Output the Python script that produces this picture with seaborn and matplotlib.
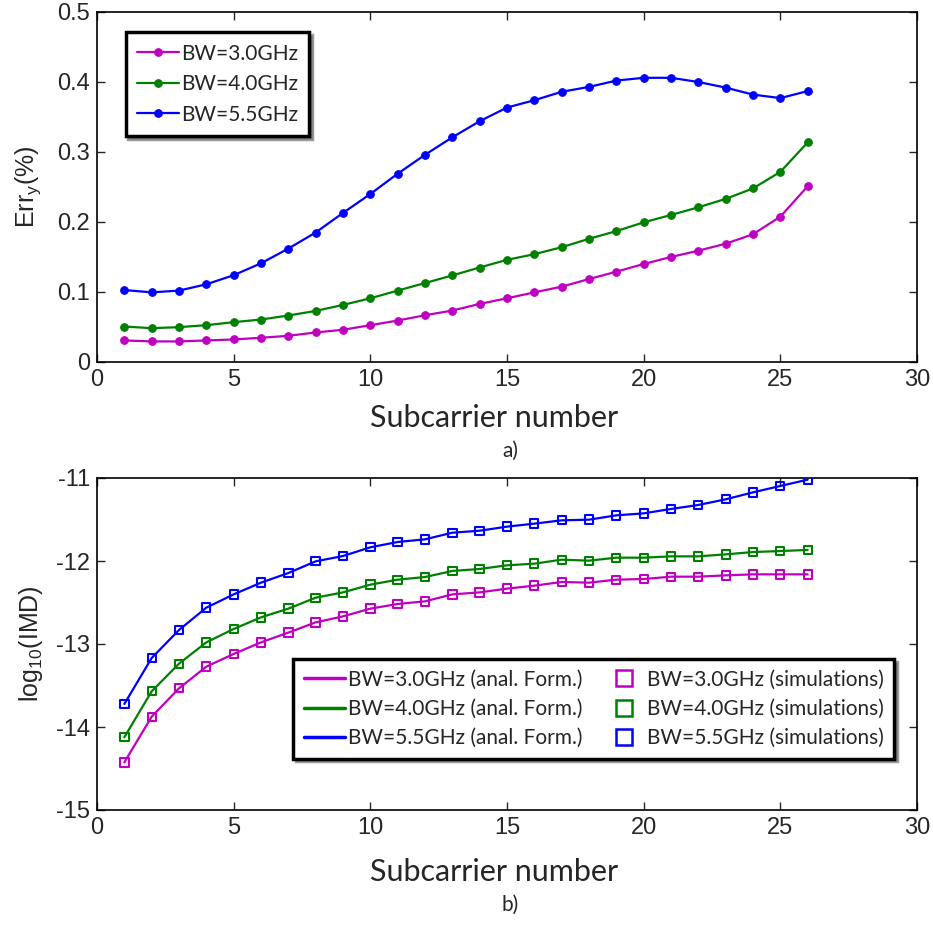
import numpy as np
import pandas as pd
import matplotlib
matplotlib.use("Agg")
import matplotlib.pyplot as plt
from matplotlib.lines import Line2D
import seaborn as sns

# ---------------- data ----------------
subcarrier = list(range(1, 27))

err_bw30 = [0.0308, 0.0294, 0.0294, 0.0308, 0.0322, 0.0346, 0.0374, 0.0422, 0.0460, 0.0526,
            0.0592, 0.0668, 0.0735, 0.0830, 0.0910, 0.0995, 0.1076, 0.1185, 0.1290, 0.1400,
            0.1500, 0.1590, 0.1690, 0.1825, 0.2076, 0.2510]
err_bw40 = [0.0507, 0.0483, 0.0498, 0.0526, 0.0569, 0.0607, 0.0664, 0.0730, 0.0815, 0.0910,
            0.1020, 0.1128, 0.1237, 0.1350, 0.1460, 0.1540, 0.1640, 0.1760, 0.1870, 0.1995,
            0.2100, 0.2210, 0.2330, 0.2480, 0.2716, 0.3137]
err_bw55 = [0.1028, 0.0995, 0.1020, 0.1110, 0.1240, 0.1410, 0.1620, 0.1850, 0.2130, 0.2400,
            0.2690, 0.2960, 0.3210, 0.3440, 0.3635, 0.3740, 0.3860, 0.3930, 0.4020, 0.4060,
            0.4060, 0.4000, 0.3920, 0.3820, 0.3770, 0.3870]

imd_anal_bw30 = [-14.426, -13.876, -13.534, -13.273, -13.120, -12.980, -12.863, -12.739, -12.667, -12.574,
                 -12.518, -12.486, -12.402, -12.378, -12.333, -12.297, -12.253, -12.261, -12.225, -12.217,
                 -12.189, -12.189, -12.173, -12.161, -12.161, -12.161]
imd_anal_bw40 = [-14.124, -13.570, -13.237, -12.980, -12.819, -12.679, -12.574, -12.442, -12.378, -12.285,
                 -12.225, -12.193, -12.120, -12.096, -12.052, -12.032, -11.984, -11.996, -11.960, -11.960,
                 -11.944, -11.944, -11.920, -11.892, -11.880, -11.867]
imd_anal_bw55 = [-13.723, -13.169, -12.831, -12.562, -12.402, -12.261, -12.145, -12.004, -11.940, -11.835,
                 -11.771, -11.739, -11.659, -11.635, -11.586, -11.550, -11.510, -11.502, -11.450, -11.426,
                 -11.373, -11.325, -11.257, -11.173, -11.096, -11.020]

imd_sim_bw30 = [-14.426, -13.876, -13.534, -13.273, -13.120, -12.980, -12.863, -12.739, -12.667, -12.574,
                -12.518, -12.486, -12.402, -12.378, -12.333, -12.297, -12.253, -12.261, -12.225, -12.217,
                -12.189, -12.189, -12.173, -12.161, -12.161, -12.161]
imd_sim_bw40 = [-14.124, -13.570, -13.237, -12.980, -12.819, -12.679, -12.574, -12.442, -12.378, -12.285,
                -12.225, -12.193, -12.120, -12.096, -12.052, -12.032, -11.984, -11.996, -11.960, -11.960,
                -11.944, -11.944, -11.920, -11.892, -11.880, -11.867]
imd_sim_bw55 = [-13.723, -13.169, -12.831, -12.562, -12.402, -12.261, -12.145, -12.004, -11.940, -11.835,
                -11.771, -11.739, -11.659, -11.635, -11.586, -11.550, -11.510, -11.502, -11.450, -11.426,
                -11.373, -11.325, -11.257, -11.173, -11.096, -11.020]

bw_labels = ["BW=3.0GHz", "BW=4.0GHz", "BW=5.5GHz"]
x_ticks = [0, 5, 10, 15, 20, 25, 30]
top_yticks = [0, 0.1, 0.2, 0.3, 0.4, 0.5]
top_yticklabels = ["0", "0.1", "0.2", "0.3", "0.4", "0.5"]
bot_yticks = [-15, -14, -13, -12, -11]
bot_yticklabels = ["-15", "-14", "-13", "-12", "-11"]

colors = ["#c000c0", "#008000", "#0000ff"]

# ---------------- style ----------------
sns.set_theme(style="ticks")
TICK_FONT = ["Liberation Sans", "DejaVu Sans"]
LABEL_FONT = ["Lato", "Open Sans", "DejaVu Sans"]
plt.rcParams["font.family"] = TICK_FONT
plt.rcParams["mathtext.fontset"] = "custom"
plt.rcParams["mathtext.rm"] = "Liberation Sans"
plt.rcParams["xtick.direction"] = "in"
plt.rcParams["ytick.direction"] = "in"
plt.rcParams["axes.linewidth"] = 1.2
plt.rcParams["axes.edgecolor"] = "black"

fig = plt.figure(figsize=(9.33, 9.25), dpi=100)
W, H = 933.0, 925.0
ax1 = fig.add_axes([97 / W, 1 - 362 / H, 820 / W, 350 / H])
ax2 = fig.add_axes([97 / W, 1 - 810 / H, 820 / W, 332 / H])

# ---------------- top panel ----------------
err_series = [err_bw30, err_bw40, err_bw55]
for vals, c, lab in zip(err_series, colors, bw_labels):
    sns.lineplot(x=subcarrier, y=vals, ax=ax1, color=c, marker="o", markersize=5.5,
                 markeredgecolor=c, linewidth=1.6, label=lab)

ax1.set_xlim(0, 30)
ax1.set_ylim(0, 0.5)
ax1.set_xticks(x_ticks)
ax1.set_yticks(top_yticks)
ax1.set_yticklabels(top_yticklabels)
ax1.set_ylabel("Err$_\\mathregular{y}$(%)", fontsize=18, family=TICK_FONT, labelpad=10)
ax1.set_xlabel("Subcarrier number", fontsize=22, family=LABEL_FONT)
leg1 = ax1.legend(loc="upper left", bbox_to_anchor=(0.035, 0.942),
                  prop={"family": LABEL_FONT, "size": 15},
                  frameon=True, fancybox=False, handlelength=2.0, handletextpad=0.1,
                  labelspacing=0.5, borderpad=0.55, borderaxespad=0,
                  shadow={"color": "0.35", "alpha": 0.6})
leg1.get_frame().set_edgecolor("black")
leg1.get_frame().set_linewidth(2.5)
fig.text(510 / W, 1 - 451 / H, "a)", ha="center", va="center", fontsize=15, family=LABEL_FONT)

# ---------------- bottom panel ----------------
anal_series = [imd_anal_bw30, imd_anal_bw40, imd_anal_bw55]
sim_series = [imd_sim_bw30, imd_sim_bw40, imd_sim_bw55]
for vals, c in zip(anal_series, colors):
    sns.lineplot(x=subcarrier, y=vals, ax=ax2, color=c, linewidth=1.6)
for vals, c in zip(sim_series, colors):
    sns.scatterplot(x=subcarrier, y=vals, ax=ax2, marker="s", s=36,
                    facecolors="none", edgecolors=c, linewidth=1.5, zorder=3)

ax2.set_xlim(0, 30)
ax2.set_ylim(-15, -11)
ax2.set_xticks(x_ticks)
ax2.set_yticks(bot_yticks)
ax2.set_yticklabels(bot_yticklabels)
ax2.set_ylabel("log$_\\mathregular{10}$(IMD)", fontsize=18, family=TICK_FONT, labelpad=8)
ax2.set_xlabel("Subcarrier number", fontsize=22, family=LABEL_FONT)

handles = [Line2D([0], [0], color=c, lw=2.5) for c in colors] + \
          [Line2D([0], [0], color=c, lw=0, marker="s", markersize=11, markerfacecolor="none",
                  markeredgecolor=c, markeredgewidth=1.8) for c in colors]
labels = [l + " (anal. Form.)" for l in bw_labels] + [l + " (simulations)" for l in bw_labels]
leg2 = ax2.legend(handles, labels, ncol=2, loc="upper left", bbox_to_anchor=(0.2395, 0.4545),
                  prop={"family": LABEL_FONT, "size": 15}, frameon=True, fancybox=False,
                  handlelength=2.0, handletextpad=0.1, labelspacing=0.45, columnspacing=1.0,
                  borderpad=0.5, borderaxespad=0, shadow={"color": "0.35", "alpha": 0.6})
leg2.get_frame().set_edgecolor("black")
leg2.get_frame().set_linewidth(2.5)
fig.text(510 / W, 1 - 905 / H, "b)", ha="center", va="center", fontsize=15, family=LABEL_FONT)

for ax in (ax1, ax2):
    ax.tick_params(axis="both", which="both", direction="in", length=6, width=1,
                   labelsize=17, top=True, right=True, pad=5)
    for lbl in ax.get_xticklabels() + ax.get_yticklabels():
        lbl.set_family(TICK_FONT)
    for sp in ax.spines.values():
        sp.set_visible(True)
        sp.set_color("black")

ax1.xaxis.set_label_coords(0.484, -0.12)
ax2.xaxis.set_label_coords(0.484, -0.145)

fig.savefig("out.png", dpi=100)
